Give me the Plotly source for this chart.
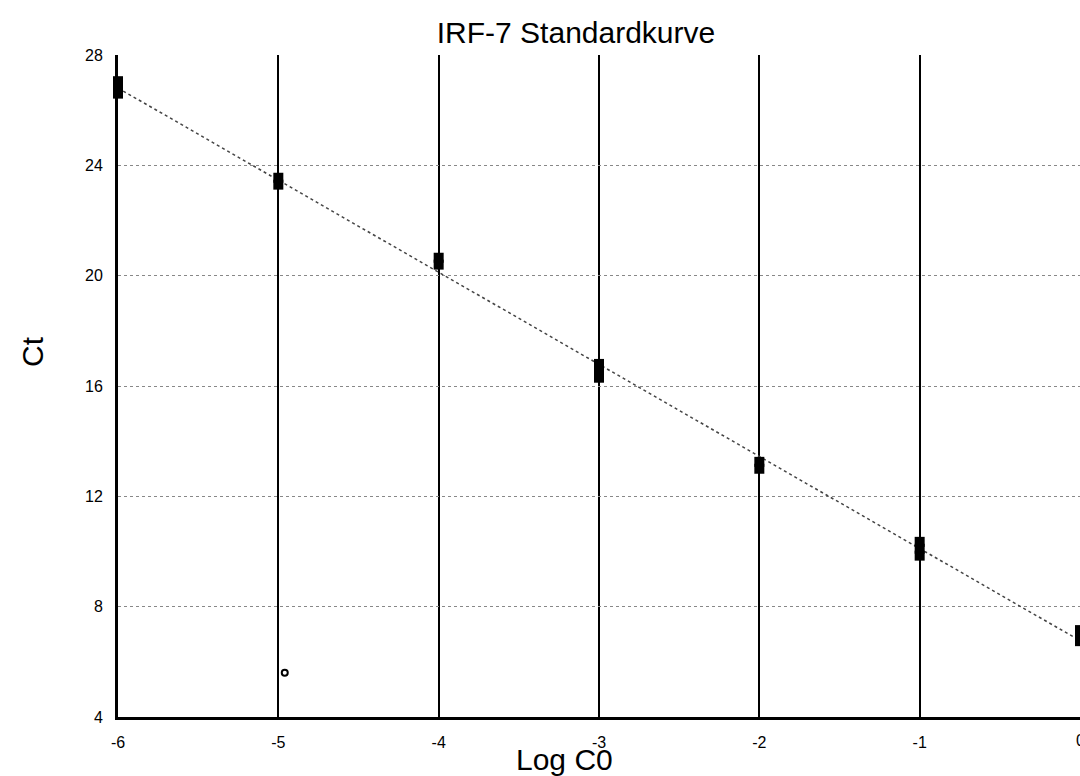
import numpy as np
import plotly.graph_objects as go

# Data
log_c0 = [-6, -6, -6, -5, -5, -4, -4, -3, -3, -3, -2, -2, -1, -1, -1, 0, 0, 0]
ct = [26.6, 26.85, 27.05, 23.3, 23.55, 20.4, 20.65, 16.3, 16.55, 16.8, 13.0, 13.25,
      9.85, 10.1, 10.35, 6.75, 6.95, 7.15]
outlier_x = [-4.96]
outlier_ct = [5.6]
x_ticks = [-6, -5, -4, -3, -2, -1, 0]
y_ticks = [4, 8, 12, 16, 20, 24, 28]

# regression fit from the data
slope, intercept = np.polyfit(log_c0, ct, 1)
fit_x = np.array([min(x_ticks), max(x_ticks)])
fit_y = slope * fit_x + intercept

FONT = "Liberation Sans, Arial, sans-serif"
L, T, W, H = 118, 55, 962, 662  # plot area in pixels

fig = go.Figure()
fig.add_trace(go.Scatter(x=fit_x, y=fit_y, mode="lines",
                         line=dict(color="#444444", width=1.5, dash="dot"),
                         showlegend=False, hoverinfo="skip"))
fig.add_trace(go.Scatter(x=log_c0, y=ct, mode="markers", cliponaxis=False,
                         marker=dict(symbol="square", size=10, color="black"),
                         showlegend=False))
fig.add_trace(go.Scatter(x=outlier_x, y=outlier_ct, mode="markers",
                         marker=dict(symbol="circle-open", size=6, color="black",
                                     line=dict(width=2)),
                         showlegend=False))

font_axis = dict(family=FONT, size=16, color="black")
annotations = [
    dict(text="Log C0", x=(564 - L) / W, y=(T + H - 759) / H, xref="paper", yref="paper",
         xanchor="center", yanchor="middle", showarrow=False,
         font=dict(family=FONT, size=30, color="black")),
    dict(text="Ct", x=(32 - L) / W, y=(T + H - 352) / H, xref="paper", yref="paper",
         xanchor="center", yanchor="middle", showarrow=False, textangle=-90,
         font=dict(family=FONT, size=30, color="black")),
]
# the last x tick label sits on the page edge and is drawn as an annotation
annotations.append(dict(text=str(x_ticks[-1]), x=x_ticks[-1], xref="x",
                        y=(T + H - 740) / H, yref="paper", xanchor="center",
                        yanchor="middle", showarrow=False, font=font_axis))

fig.update_layout(
    width=1080, height=776,
    margin=dict(l=L, r=1080 - L - W, t=T, b=776 - T - H, autoexpand=False),
    plot_bgcolor="white", paper_bgcolor="white",
    title=dict(text="IRF-7 Standardkurve", x=576/1080, xanchor="center",
               y=1 - 32/776, yanchor="middle",
               font=dict(family=FONT, size=30, color="black")),
    xaxis=dict(range=[-6, 0], tickvals=x_ticks[:-1], ticktext=[str(v) for v in x_ticks[:-1]],
               showgrid=True, gridcolor="black", gridwidth=2,
               showline=True, linecolor="black", linewidth=3,
               zeroline=False, ticks="", tickfont=font_axis, ticklabelstandoff=9,
               automargin=False),
    yaxis=dict(range=[4, 28], tickvals=y_ticks, ticktext=[str(v) for v in y_ticks],
               showgrid=True, gridcolor="#888888", gridwidth=1, griddash="dot",
               showline=True, linecolor="black", linewidth=3,
               zeroline=False, ticks="", tickfont=font_axis, ticklabelstandoff=9,
               automargin=False),
    annotations=annotations,
)
fig.write_html("out.html", config={"displayModeBar": False},
               post_script="document.body.style.margin='0';document.body.style.overflow='hidden';")
